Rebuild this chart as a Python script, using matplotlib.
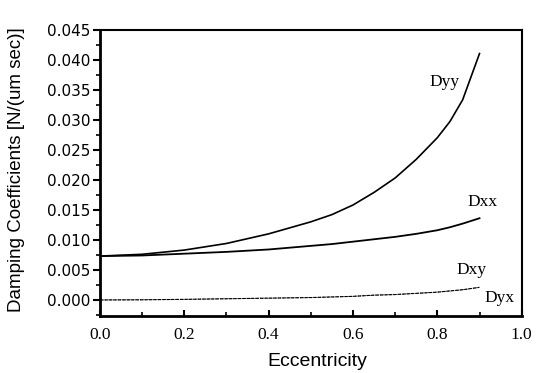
import matplotlib
matplotlib.use("Agg")
import matplotlib.pyplot as plt
from matplotlib.ticker import MultipleLocator

# values
ecc = [0.0, 0.1, 0.2, 0.3, 0.4, 0.5, 0.55, 0.6, 0.65, 0.7, 0.75, 0.8, 0.83, 0.86, 0.9]
dyy = [0.0073, 0.0076, 0.0083, 0.0094, 0.0110, 0.0130, 0.0142, 0.0158, 0.0179, 0.0203,
       0.0234, 0.0270, 0.0297, 0.0333, 0.0410]
dxx = [0.0073, 0.0074, 0.0077, 0.0080, 0.0084, 0.0090, 0.0093, 0.0097, 0.0101, 0.0105,
       0.0110, 0.0116, 0.0121, 0.0127, 0.0136]
dxy = [0.0, 0.00003, 0.0001, 0.0002, 0.0003, 0.0004, 0.0005, 0.0006, 0.0008, 0.0009,
       0.0011, 0.0013, 0.0015, 0.0017, 0.0021]
dyx = [0.0, 0.00003, 0.0001, 0.0002, 0.0003, 0.0004, 0.0005, 0.0006, 0.0008, 0.0009,
       0.0011, 0.0013, 0.0015, 0.0017, 0.0021]

labels = ["Dyy", "Dxx", "Dxy", "Dyx"]
label_pos = [(0.818, 0.0363), (0.908, 0.0163), (0.882, 0.0050), (0.948, 0.0003)]

fig = plt.figure(figsize=(5.41, 3.73), dpi=100)
ax = fig.add_axes([0.1848, 0.1528, 0.7795, 0.7681])

ax.plot(ecc, dyy, color="black", lw=1.2)
ax.plot(ecc, dxx, color="black", lw=1.3)
ax.plot(ecc, dxy, color="black", lw=0.8, linestyle=(0, (3, 1)))
ax.plot(ecc, dyx, color="black", lw=0.6, linestyle=(0, (1, 1)))

for txt, (x, y) in zip(labels, label_pos):
    ax.text(x, y, txt, family="Liberation Serif", fontsize=12.5, ha="center", va="center")

ax.set_xlim(0, 1.0)
ax.set_ylim(-0.00267, 0.045)
ax.xaxis.set_major_locator(MultipleLocator(0.2))
ax.xaxis.set_minor_locator(MultipleLocator(0.1))
ax.yaxis.set_major_locator(MultipleLocator(0.005))
ax.yaxis.set_minor_locator(MultipleLocator(0.0025))
ax.set_xticklabels([f"{v:.1f}" for v in ax.get_xticks()], family="Liberation Serif", fontsize=12.5)
ax.set_yticklabels([f"{v:.3f}" for v in ax.get_yticks()], family="DejaVu Sans", fontsize=11)

ax.tick_params(axis="x", which="major", direction="in", length=4, width=1.5, pad=8)
ax.tick_params(axis="x", which="minor", direction="in", length=3, width=1.2)
ax.tick_params(axis="y", which="major", direction="out", length=5, width=1.5, pad=2)
ax.tick_params(axis="y", which="minor", direction="out", length=3, width=1.2)

for s in ["left", "bottom"]:
    ax.spines[s].set_linewidth(2)
for s in ["top", "right"]:
    ax.spines[s].set_linewidth(1.5)

ax.set_xlabel("Eccentricity", family="Liberation Sans", fontsize=14)
ax.set_ylabel("Damping Coefficients [N/(um sec)]", family="Liberation Sans", fontsize=13.5)
ax.xaxis.set_label_coords(0.515, -0.13)
ax.yaxis.set_label_coords(-0.178, 0.51)

fig.savefig("out.png", dpi=100)
